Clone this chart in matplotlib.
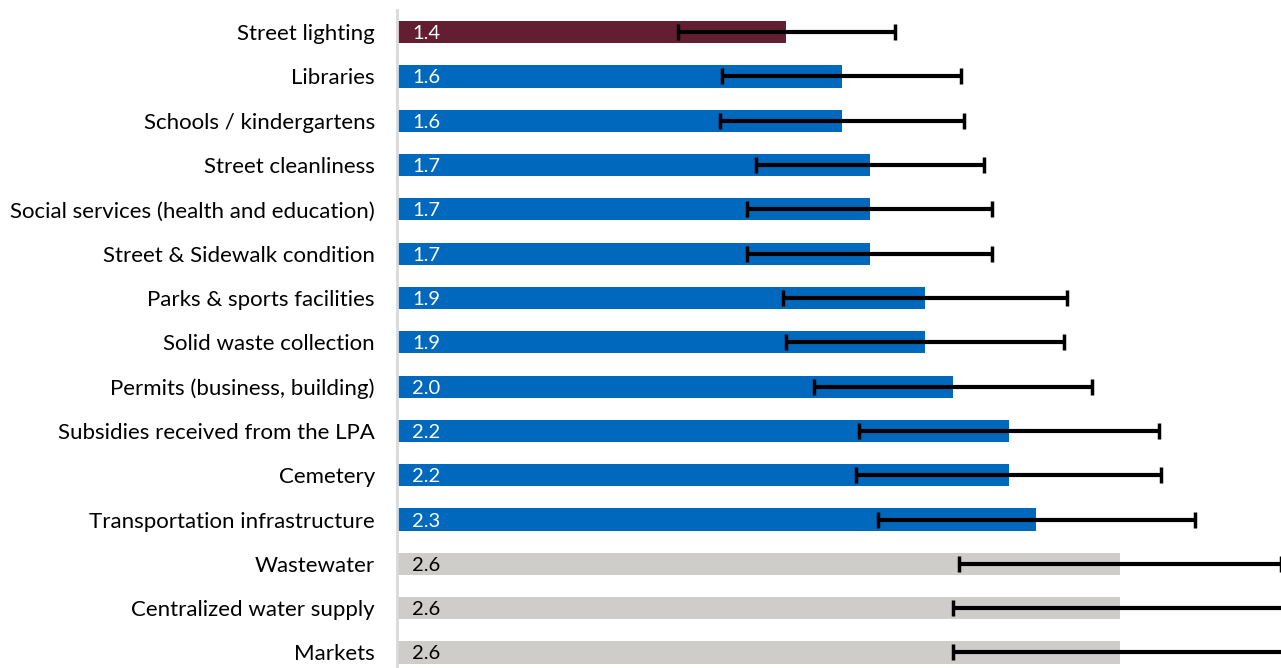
import matplotlib.pyplot as plt

# Data
services = ["Street lighting", "Libraries", "Schools / kindergartens", "Street cleanliness",
            "Social services (health and education)", "Street & Sidewalk condition",
            "Parks & sports facilities", "Solid waste collection", "Permits (business, building)",
            "Subsidies received from the LPA", "Cemetery", "Transportation infrastructure",
            "Wastewater", "Centralized water supply", "Markets"]
scores = [1.40, 1.60, 1.60, 1.70, 1.70, 1.70, 1.90, 1.90, 2.00, 2.20, 2.20, 2.30, 2.60, 2.60, 2.60]
errors = [0.39, 0.43, 0.44, 0.41, 0.44, 0.44, 0.51, 0.50, 0.50, 0.54, 0.55, 0.57, 0.58, 0.60, 0.60]
groups = ["worst"] + ["mid"] * 11 + ["best"] * 3

colors = {"worst": "#641E32", "mid": "#0069BE", "best": "#CFCDC9"}
text_colors = {"worst": "white", "mid": "white", "best": "black"}

plt.rcParams["font.family"] = ["Lato", "DejaVu Sans"]

fig = plt.figure(figsize=(12.81, 6.68), dpi=100)
ax = fig.add_axes([0.31, 0.0, 0.69, 0.985])

y = list(range(len(services)))
ax.barh(y, scores, height=0.5, color=[colors[g] for g in groups], zorder=2)
ax.errorbar(scores, y, xerr=errors, fmt="none", ecolor="black", elinewidth=3,
            capsize=6, capthick=2.5, zorder=3, clip_on=True)

# Value labels inside the bars
for yi, s, g in zip(y, scores, groups):
    ax.text(0.055, yi, f"{s:.1f}", va="center_baseline", ha="left", fontsize=14.5,
            color=text_colors[g], zorder=4)

ax.set_xlim(0, 3.18)
ax.set_ylim(14.35, -0.5)
ax.set_yticks(y)
ax.set_yticklabels(services, fontsize=16)
ax.tick_params(axis="y", length=0, pad=16)
ax.set_xticks([])

for side in ["top", "right", "bottom"]:
    ax.spines[side].set_visible(False)
ax.spines["left"].set_color("#D9D9D9")
ax.spines["left"].set_linewidth(2)

fig.savefig("out.png", dpi=100)
